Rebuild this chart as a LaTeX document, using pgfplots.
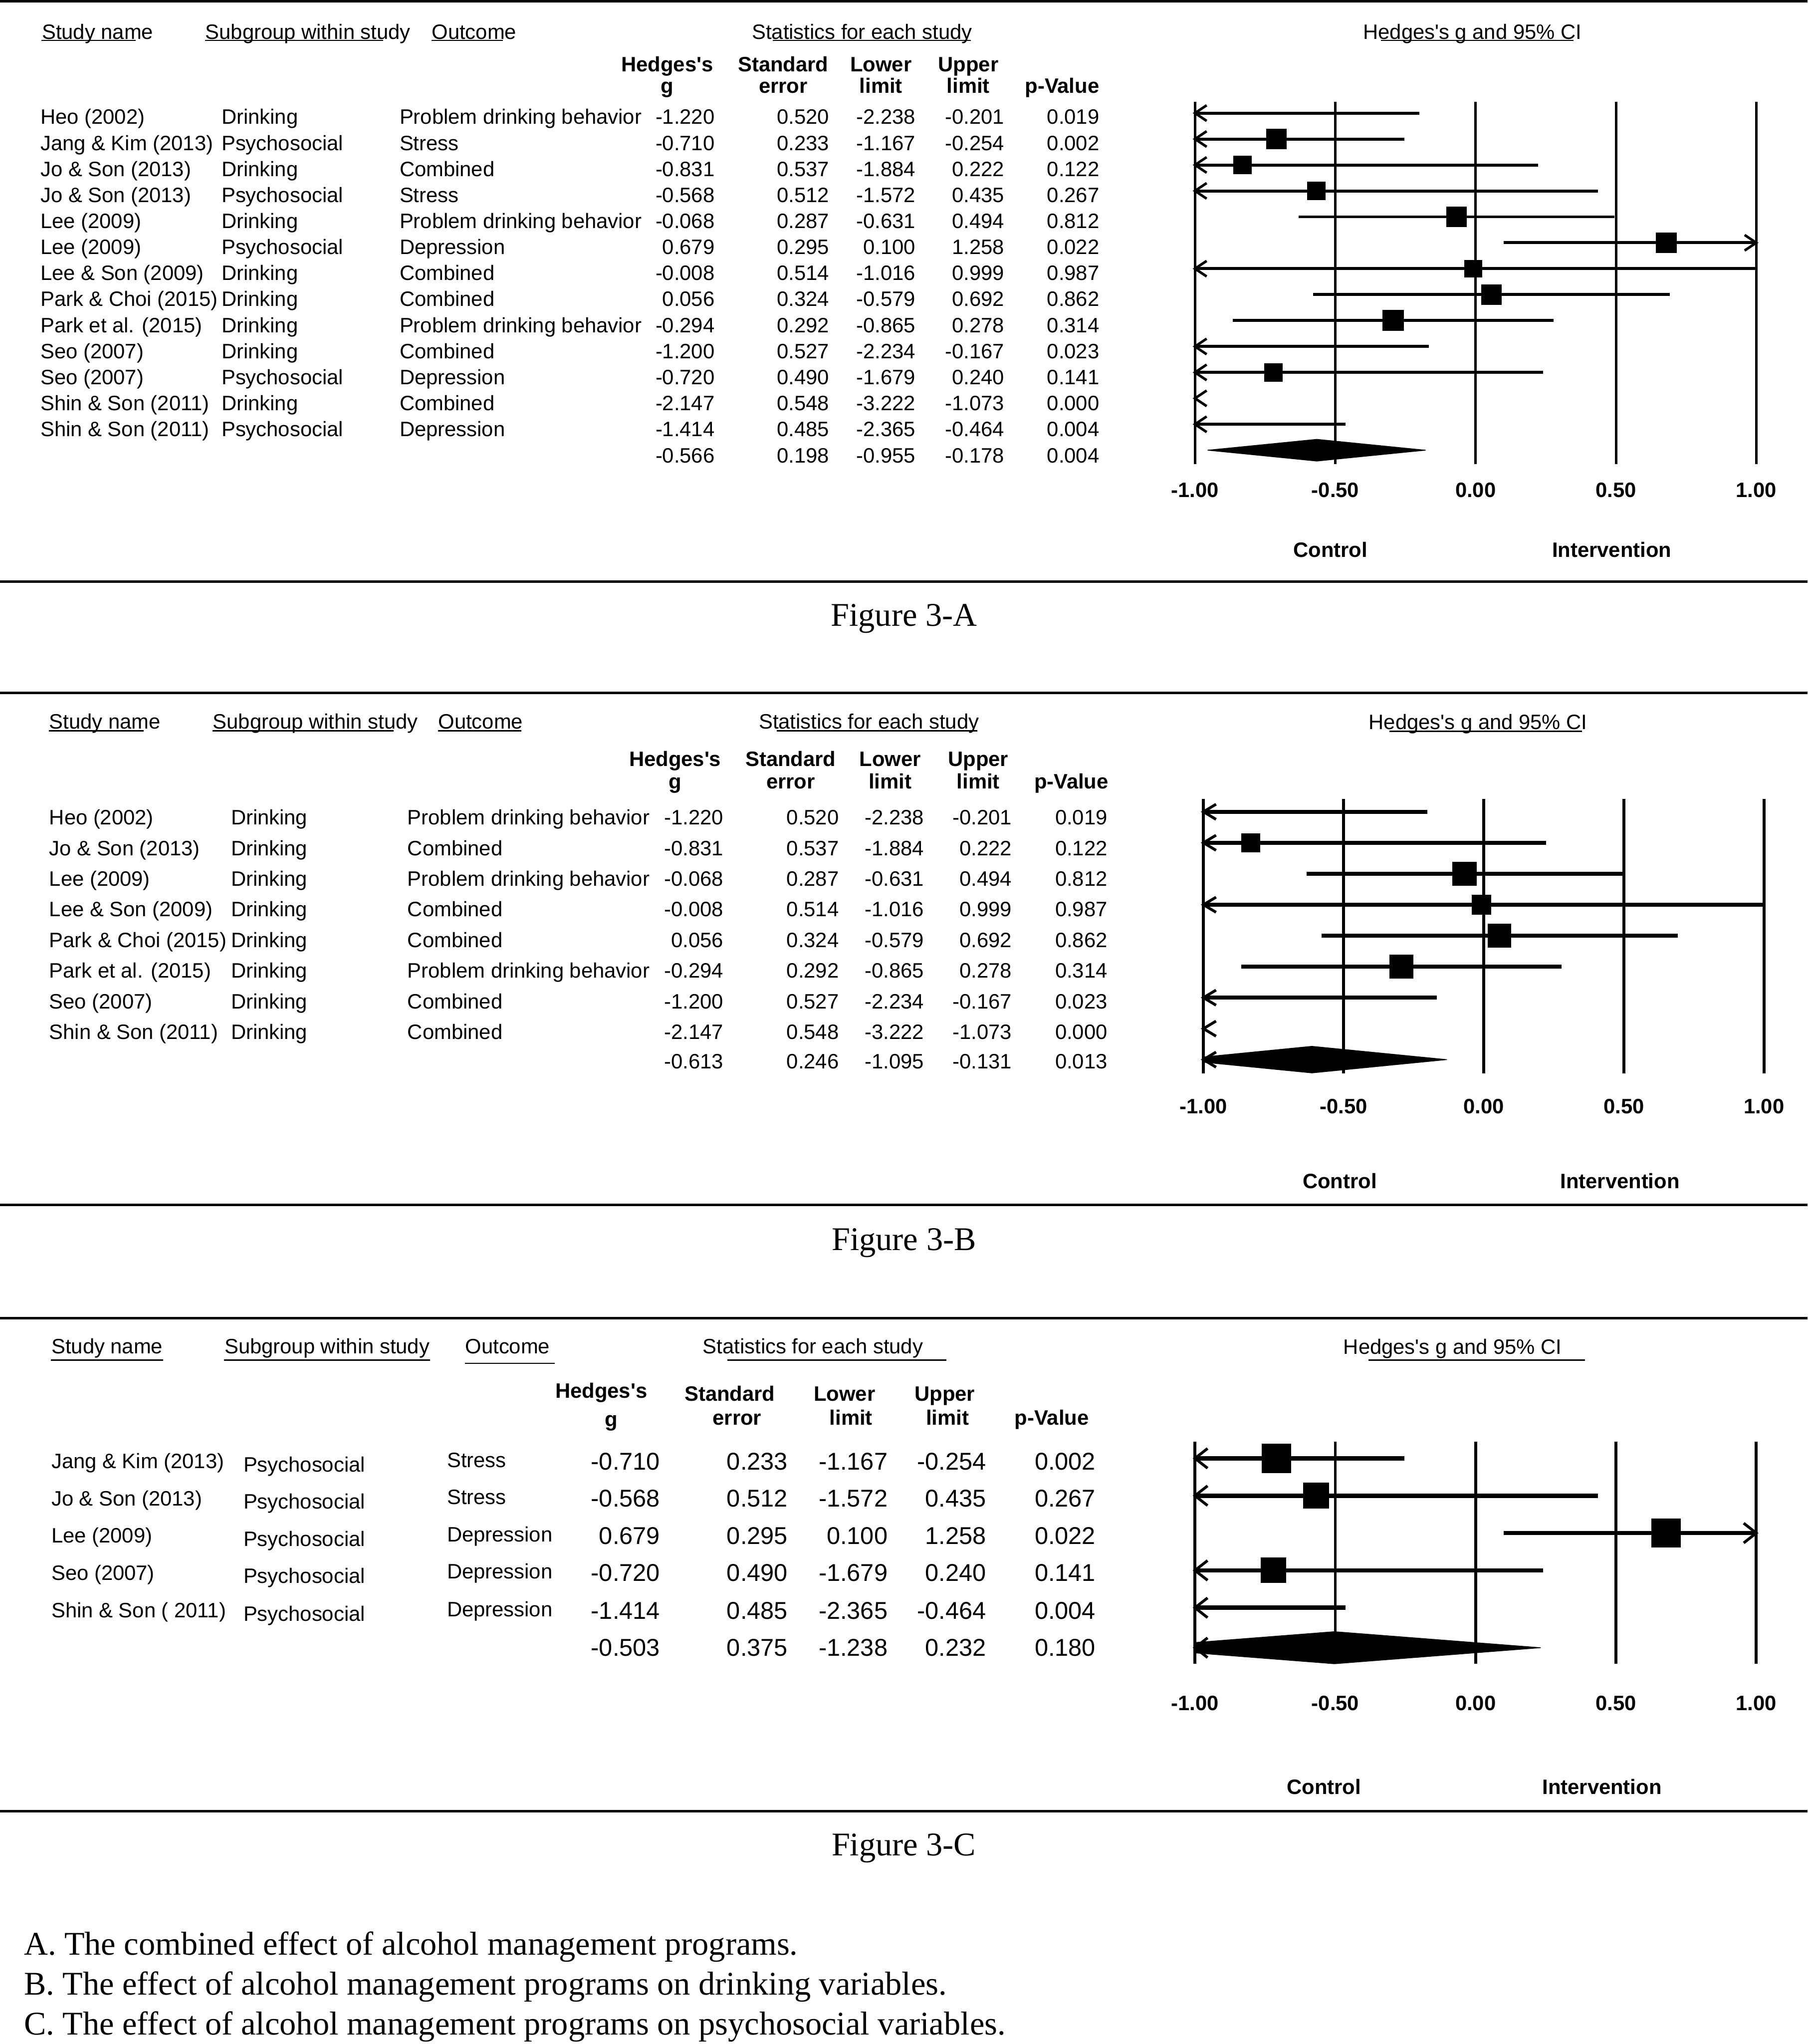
\documentclass[border=0pt]{standalone}
\usepackage{fontspec}
\setmainfont{Liberation Sans}
\newfontfamily\tabfont{Liberation Sans}
\newfontfamily\capfont{Liberation Serif}
\usepackage{pgfplots}
\usepackage{pgfplotstable}
\pgfplotsset{compat=1.18}

\newcommand\tf{\tabfont\fontsize{9.1pt}{11pt}\selectfont}
\newcommand\cf{\capfont\fontsize{14.45pt}{17pt}\selectfont}
\def\nf{}

% open arrow heads for intervals running off the scale
\def\arrw{5.1pt}
\pgfdeclareplotmark{larr}{%
  \pgfpathmoveto{\pgfqpoint{\arrw}{\pgfplotmarksize}}%
  \pgfpathlineto{\pgfqpoint{0pt}{0pt}}%
  \pgfpathlineto{\pgfqpoint{\arrw}{-\pgfplotmarksize}}%
  \pgfusepathqstroke}
\pgfdeclareplotmark{rarr}{%
  \pgfpathmoveto{\pgfqpoint{-\arrw}{\pgfplotmarksize}}%
  \pgfpathlineto{\pgfqpoint{0pt}{0pt}}%
  \pgfpathlineto{\pgfqpoint{-\arrw}{-\pgfplotmarksize}}%
  \pgfusepathqstroke}

\pgfplotsset{
  forest/.style={
    scale only axis, anchor=south west,
    xmin=-1, xmax=1, y dir=reverse,
    xtick={-1,-0.5,0,0.5,1},
    xticklabels={-1.00,-0.50,0.00,0.50,1.00},
    ytick=\empty,
    axis line style={draw=none},
    major tick length=0pt,
    xmajorgrids,
    xticklabel style={font=\tf\bfseries, anchor=base},
  },
  ci/.style={black, mark=none, unbounded coords=jump},
  arr/.style={black, only marks, mark options={line join=round}},
  sq/.style={scatter, only marks, mark=square*,
    scatter/use mapped color={draw=black, fill=black},
    restrict x to domain=-1:1,
    visualization depends on={\thisrow{sz} \as \msz},
    scatter/@pre marker code/.append style={/tikz/mark size=\msz}},
}

% row g se lo hi p sz(mark size, pt)
\pgfplotstableread{
row g se lo hi p sz
1 -1.220 0.520 -2.238 -0.201 0.019 3.8
2 -0.710 0.233 -1.167 -0.254 0.002 4.32
3 -0.831 0.537 -1.884 0.222 0.122 3.78
4 -0.568 0.512 -1.572 0.435 0.267 3.78
5 -0.068 0.287 -0.631 0.494 0.812 4.35
6 0.679 0.295 0.100 1.258 0.022 4.35
7 -0.008 0.514 -1.016 0.999 0.987 3.7
8 0.056 0.324 -0.579 0.692 0.862 4.3
9 -0.294 0.292 -0.865 0.278 0.314 4.4
10 -1.200 0.527 -2.234 -0.167 0.023 3.8
11 -0.720 0.490 -1.679 0.240 0.141 3.85
12 -2.147 0.548 -3.222 -1.073 0.000 3.7
13 -1.414 0.485 -2.365 -0.464 0.004 3.85
}\tabA

\pgfplotstableread{
row g se lo hi p sz
1 -1.220 0.520 -2.238 -0.201 0.019 3.9
2 -0.831 0.537 -1.884 0.222 0.122 3.95
3 -0.068 0.287 -0.631 0.494 0.812 5.1
4 -0.008 0.514 -1.016 0.999 0.987 4.1
5 0.056 0.324 -0.579 0.692 0.862 5.0
6 -0.294 0.292 -0.865 0.278 0.314 5.05
7 -1.200 0.527 -2.234 -0.167 0.023 3.9
8 -2.147 0.548 -3.222 -1.073 0.000 3.8
}\tabB

\pgfplotstableread{
row g se lo hi p sz
1 -0.710 0.233 -1.167 -0.254 0.002 6.17
2 -0.568 0.512 -1.572 0.435 0.267 5.5
3 0.679 0.295 0.100 1.258 0.022 6.2
4 -0.720 0.490 -1.679 0.240 0.141 5.35
5 -1.414 0.485 -2.365 -0.464 0.004 5.3
}\tabC

% table text helpers
\def\dN{0}\def\dS{0}\def\dO{0}
\newcommand\setcols[8]{\def\cN{#1}\def\cS{#2}\def\cO{#3}\def\cG{#4}\def\cE{#5}\def\cL{#6}\def\cU{#7}\def\cP{#8}}
\newcommand\trow[9]{%
  \node[anchor=base west] at (\cN,#1+\dN) {#2};
  \node[anchor=base west] at (\cS,#1+\dS) {#3};
  \node[anchor=base west] at (\cO,#1+\dO) {#4};
  \node[anchor=base east] at (\cG,#1) {\nf #5};
  \node[anchor=base east] at (\cE,#1) {\nf #6};
  \node[anchor=base east] at (\cL,#1) {\nf #7};
  \node[anchor=base east] at (\cU,#1) {\nf #8};
  \node[anchor=base east] at (\cP,#1) {\nf #9};}
\newcommand\hd[3]{\node[anchor=base west] at (#1,#2) {#3};}
\newcommand\ul[3]{\draw[line width=0.6pt] (#1,#3) -- (#2,#3);}
\newcommand\bh[3]{\node[anchor=base, font=\tf\bfseries] at (#1,#2) {#3};}

\begin{document}
\begin{tikzpicture}[x=0.02cm, y=-0.02cm, every node/.style={inner sep=0pt, font=\tf}]
\useasboundingbox (0,0) rectangle (1387,1568);
\fill[white] (0,0) rectangle (1387,1568);
\foreach \yy in {0.95,446.1,531.4,924.4,1011.3,1389.3}
  \draw[line width=1.05pt] (0,\yy) -- (1387,\yy);

%================ Figure 3-A ================
\hd{31.9}{30}{Study name}\ul{31.9}{104}{31}
\hd{157.3}{30}{Subgroup within study}\ul{157.3}{294}{31}
\hd{331}{30}{Outcome}\ul{331}{386}{31}
\hd{576.7}{30}{Statistics for each study}\ul{593}{745}{31}
\hd{1045.7}{30}{Hedges's g and 95\% CI}\ul{1059.8}{1207.4}{31}
\bh{512}{54.8}{Hedges's}\bh{512}{71.4}{g}
\bh{601}{54.8}{Standard}\bh{601}{71.4}{error}
\bh{676}{54.8}{Lower}\bh{676}{71.4}{limit}
\bh{743}{54.8}{Upper}\bh{743}{71.4}{limit}
\bh{815}{71.4}{p-Value}
\setcols{30.8}{169.7}{306.3}{548.7}{636.6}{702.7}{771}{843.8}
\trow{95.3}{Heo (2002)}{Drinking}{Problem drinking behavior}{-1.220}{0.520}{-2.238}{-0.201}{0.019}
\trow{115.26}{Jang \& Kim (2013)}{Psychosocial}{Stress}{-0.710}{0.233}{-1.167}{-0.254}{0.002}
\trow{135.22}{Jo \& Son (2013)}{Drinking}{Combined}{-0.831}{0.537}{-1.884}{0.222}{0.122}
\trow{155.18}{Jo \& Son (2013)}{Psychosocial}{Stress}{-0.568}{0.512}{-1.572}{0.435}{0.267}
\trow{175.14}{Lee (2009)}{Drinking}{Problem drinking behavior}{-0.068}{0.287}{-0.631}{0.494}{0.812}
\trow{195.1}{Lee (2009)}{Psychosocial}{Depression}{0.679}{0.295}{0.100}{1.258}{0.022}
\trow{215.06}{Lee \& Son (2009)}{Drinking}{Combined}{-0.008}{0.514}{-1.016}{0.999}{0.987}
\trow{235.02}{Park \& Choi (2015)}{Drinking}{Combined}{0.056}{0.324}{-0.579}{0.692}{0.862}
\trow{254.98}{Park et al. (2015)}{Drinking}{Problem drinking behavior}{-0.294}{0.292}{-0.865}{0.278}{0.314}
\trow{274.94}{Seo (2007)}{Drinking}{Combined}{-1.200}{0.527}{-2.234}{-0.167}{0.023}
\trow{294.9}{Seo (2007)}{Psychosocial}{Depression}{-0.720}{0.490}{-1.679}{0.240}{0.141}
\trow{314.86}{Shin \& Son (2011)}{Drinking}{Combined}{-2.147}{0.548}{-3.222}{-1.073}{0.000}
\trow{334.82}{Shin \& Son (2011)}{Psychosocial}{Depression}{-1.414}{0.485}{-2.365}{-0.464}{0.004}
\trow{355}{}{}{}{-0.566}{0.198}{-0.955}{-0.178}{0.004}

\coordinate (aA) at (916.9,355.9);
\begin{axis}[forest, at={(aA)}, width=8.616cm, height=5.556cm,
  ymin=0.568, ymax=14.53, grid style={black, line width=1.1pt},
  xticklabel style={yshift=-0.512cm}]
  \addplot[ci, line width=1.3pt] coordinates {
    (-2.238,1) (-0.201,1) (0,nan)
    (-1.167,2) (-0.254,2) (0,nan)
    (-1.884,3) (0.222,3) (0,nan)
    (-1.572,4) (0.435,4) (0,nan)
    (-0.631,5) (0.494,5) (0,nan)
    (0.100,6) (1.258,6) (0,nan)
    (-1.016,7) (0.999,7) (0,nan)
    (-0.579,8) (0.692,8) (0,nan)
    (-0.865,9) (0.278,9) (0,nan)
    (-2.234,10) (-0.167,10) (0,nan)
    (-1.679,11) (0.240,11) (0,nan)
    (-3.222,12) (-1.073,12) (0,nan)
    (-2.365,13) (-0.464,13)};
  \addplot[arr, mark=larr, mark size=3.4pt, mark options={line width=1.1pt}] coordinates {
    (-1,1) (-1,2) (-1,3) (-1,4) (-1,7) (-1,10) (-1,11) (-1,12) (-1,13)};
  \addplot[arr, mark=rarr, mark size=3.4pt, mark options={line width=1.1pt}] coordinates {(1,6)};
  \addplot[sq] table[x=g, y=row] {\tabA};
  \addplot[black, fill=black, line width=0.3pt] coordinates {
    (-0.955,14) (-0.566,13.58) (-0.178,14) (-0.566,14.42) (-0.955,14)};
\end{axis}
\node[anchor=base, font=\tf\bfseries] at (1020.8,427.4) {Control};
\node[anchor=base, font=\tf\bfseries] at (1236.7,427.4) {Intervention};
\node[anchor=base, font=\cf] at (693.6,480.2) {Figure 3-A};

%================ Figure 3-B ================
\hd{37.5}{559}{Study name}\ul{37.5}{110.3}{560.5}
\hd{163}{559}{Subgroup within study}\ul{163}{302}{560.5}
\hd{336}{559}{Outcome}\ul{336}{400}{560.5}
\hd{582}{559}{Statistics for each study}\ul{596}{750}{560.5}
\hd{1050}{559.5}{Hedges's g and 95\% CI}\ul{1066}{1214}{561}
\bh{518}{587.8}{Hedges's}\bh{518}{605}{g}
\bh{606.7}{587.8}{Standard}\bh{606.7}{605}{error}
\bh{683}{587.8}{Lower}\bh{683}{605}{limit}
\bh{750.6}{587.8}{Upper}\bh{750.6}{605}{limit}
\bh{822}{605}{p-Value}
\setcols{37.5}{176.9}{312.4}{555.4}{644}{709.4}{776.6}{850}
\trow{632.7}{Heo (2002)}{Drinking}{Problem drinking behavior}{-1.220}{0.520}{-2.238}{-0.201}{0.019}
\trow{656.2}{Jo \& Son (2013)}{Drinking}{Combined}{-0.831}{0.537}{-1.884}{0.222}{0.122}
\trow{679.7}{Lee (2009)}{Drinking}{Problem drinking behavior}{-0.068}{0.287}{-0.631}{0.494}{0.812}
\trow{703.2}{Lee \& Son (2009)}{Drinking}{Combined}{-0.008}{0.514}{-1.016}{0.999}{0.987}
\trow{726.7}{Park \& Choi (2015)}{Drinking}{Combined}{0.056}{0.324}{-0.579}{0.692}{0.862}
\trow{750.2}{Park et al. (2015)}{Drinking}{Problem drinking behavior}{-0.294}{0.292}{-0.865}{0.278}{0.314}
\trow{773.7}{Seo (2007)}{Drinking}{Combined}{-1.200}{0.527}{-2.234}{-0.167}{0.023}
\trow{797.2}{Shin \& Son (2011)}{Drinking}{Combined}{-2.147}{0.548}{-3.222}{-1.073}{0.000}
\trow{819.8}{}{}{}{-0.613}{0.246}{-1.095}{-0.131}{0.013}

\def\arrw{5.5pt}
\coordinate (aB) at (923.4,823.3);
\begin{axis}[forest, at={(aB)}, width=8.604cm, height=4.206cm,
  ymin=0.592, ymax=9.44, grid style={black, line width=1.3pt},
  xticklabel style={yshift=-0.62cm}]
  \addplot[ci, line width=1.75pt] coordinates {
    (-2.238,1) (-0.201,1) (0,nan)
    (-1.884,2) (0.222,2) (0,nan)
    (-0.631,3) (0.494,3) (0,nan)
    (-1.016,4) (0.999,4) (0,nan)
    (-0.579,5) (0.692,5) (0,nan)
    (-0.865,6) (0.278,6) (0,nan)
    (-2.234,7) (-0.167,7) (0,nan)
    (-3.222,8) (-1.073,8)};
  \addplot[arr, mark=larr, mark size=3.3pt, mark options={line width=1.2pt}] coordinates {
    (-1,1) (-1,2) (-1,4) (-1,7) (-1,8) (-1,9)};
  \addplot[sq] table[x=g, y=row] {\tabB};
  \addplot[black, fill=black, line width=0.3pt] coordinates {
    (-1.095,9) (-0.613,8.57) (-0.131,9) (-0.613,9.43) (-1.095,9)};
\end{axis}
\node[anchor=base, font=\tf\bfseries] at (1028,911.5) {Control};
\node[anchor=base, font=\tf\bfseries] at (1243,911.5) {Intervention};
\node[anchor=base, font=\cf] at (693.6,959) {Figure 3-B};

%================ Figure 3-C ================
\hd{39.2}{1038.5}{Study name}\ul{39.2}{125}{1043.3}
\hd{172}{1038.5}{Subgroup within study}\ul{172}{330}{1043.3}
\hd{356.7}{1038.5}{Outcome}\ul{356.7}{425.5}{1045.8}
\hd{539}{1038.5}{Statistics for each study}\ul{558}{726}{1043.3}
\hd{1030.5}{1038.6}{Hedges's g and 95\% CI}\ul{1050}{1216.3}{1043.2}
\bh{461.4}{1072.3}{Hedges's}\bh{469}{1094.4}{g}
\bh{560}{1074.8}{Standard}\bh{565.6}{1093.2}{error}
\bh{648}{1074.8}{Lower}\bh{653}{1093.2}{limit}
\bh{725}{1074.8}{Upper}\bh{727}{1093.2}{limit}
\bh{807}{1093.2}{p-Value}
\setcols{39.2}{186.5}{342.7}{506.7}{604.7}{681.4}{757}{841}
\def\dN{-1}\def\dS{1.5}\def\dO{-2}
\def\nf{\fontsize{10.6pt}{12pt}\selectfont}
\trow{1127.6}{Jang \& Kim (2013)}{Psychosocial}{Stress}{-0.710}{0.233}{-1.167}{-0.254}{0.002}
\trow{1156}{Jo \& Son (2013)}{Psychosocial}{Stress}{-0.568}{0.512}{-1.572}{0.435}{0.267}
\trow{1184.5}{Lee (2009)}{Psychosocial}{Depression}{0.679}{0.295}{0.100}{1.258}{0.022}
\trow{1213}{Seo (2007)}{Psychosocial}{Depression}{-0.720}{0.490}{-1.679}{0.240}{0.141}
\trow{1242}{Shin \& Son ( 2011)}{Psychosocial}{Depression}{-1.414}{0.485}{-2.365}{-0.464}{0.004}
\trow{1270.3}{}{}{}{-0.503}{0.375}{-1.238}{0.232}{0.180}

\coordinate (aC) at (916.9,1276.3);
\begin{axis}[forest, at={(aC)}, width=8.616cm, height=3.406cm,
  ymin=0.557, ymax=6.50, grid style={black, line width=1.3pt},
  xticklabel style={yshift=-0.718cm}]
  \addplot[ci, line width=1.9pt] coordinates {
    (-1.167,1) (-0.254,1) (0,nan)
    (-1.572,2) (0.435,2) (0,nan)
    (0.100,3) (1.258,3) (0,nan)
    (-1.679,4) (0.240,4) (0,nan)
    (-2.365,5) (-0.464,5)};
  \addplot[arr, mark=larr, mark size=4.3pt, mark options={line width=1.2pt}] coordinates {
    (-1,1) (-1,2) (-1,4) (-1,5) (-1,6.07)};
  \addplot[arr, mark=rarr, mark size=4.3pt, mark options={line width=1.2pt}] coordinates {(1,3)};
  \addplot[sq] table[x=g, y=row] {\tabC};
  \addplot[black, fill=black, line width=0.3pt] coordinates {
    (-1.238,6.07) (-0.503,5.64) (0.232,6.07) (-0.503,6.50) (-1.238,6.07)};
\end{axis}
\node[anchor=base, font=\tf\bfseries] at (1015.9,1376.5) {Control};
\node[anchor=base, font=\tf\bfseries] at (1229.2,1376.5) {Intervention};
\node[anchor=base, font=\cf] at (693.5,1423.3) {Figure 3-C};

%================ notes ================
\node[anchor=base west, font=\cf] at (18.1,1499.5) {A. The combined effect of alcohol management programs.};
\node[anchor=base west, font=\cf] at (18.1,1530.2) {B. The effect of alcohol management programs on drinking variables.};
\node[anchor=base west, font=\cf] at (18.1,1561) {C. The effect of alcohol management programs on psychosocial variables.};
\end{tikzpicture}
\end{document}
